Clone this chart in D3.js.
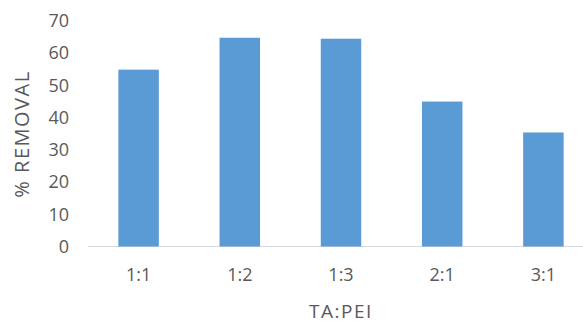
<!DOCTYPE html>
<html>
<head>
<meta charset="utf-8">
<script src="https://cdn.jsdelivr.net/npm/d3@7"></script>
<style>
  body { margin: 0; background: #fff; }
  svg text { font-family: "Open Sans", sans-serif; fill: #595959; }
</style>
</head>
<body>
<div id="chart"></div>
<script>
const categories = ["1:1", "1:2", "1:3", "2:1", "3:1"];
const removal = [54.9, 64.8, 64.5, 45.0, 35.4];
const yTicks = [0, 10, 20, 30, 40, 50, 60, 70];

const svg = d3.select("#chart").append("svg")
    .attr("width", 583)
    .attr("height", 324);

const xScale = d3.scaleBand()
    .domain(categories)
    .range([88, 594])
    .paddingInner(0.6)
    .paddingOuter(0.3);

const yScale = d3.scaleLinear()
    .domain([0, 70])
    .range([246.5, 21]);

// baseline
svg.append("line")
    .attr("x1", 88).attr("x2", 583)
    .attr("y1", yScale(0)).attr("y2", yScale(0))
    .attr("stroke", "#d9d9d9")
    .attr("stroke-width", 1);

// bars
svg.selectAll("rect")
    .data(removal)
    .enter()
    .append("rect")
    .attr("x", (d, i) => xScale(categories[i]))
    .attr("y", d => yScale(d))
    .attr("width", xScale.bandwidth())
    .attr("height", d => yScale(0) - yScale(d))
    .attr("fill", "#5b9bd5");

// y-axis labels
const yAxis = svg.append("g")
    .attr("transform", "translate(69,0)")
    .call(d3.axisLeft(yScale).tickValues(yTicks).tickSize(0).tickPadding(0));
yAxis.select(".domain").remove();
yAxis.selectAll("text").attr("font-size", 18).attr("font-family", null);

// x-axis labels
const xAxis = svg.append("g")
    .attr("transform", `translate(0, ${yScale(0)})`)
    .call(d3.axisBottom(xScale).tickSize(0).tickPadding(22));
xAxis.select(".domain").remove();
xAxis.selectAll("text").attr("font-size", 18).attr("font-family", null);

// axis titles
svg.append("text")
    .attr("transform", "translate(29, 134) rotate(-90)")
    .attr("text-anchor", "middle")
    .attr("font-size", 20)
    .attr("letter-spacing", 1.5)
    .text("% REMOVAL");

svg.append("text")
    .attr("x", 341)
    .attr("y", 318)
    .attr("text-anchor", "middle")
    .attr("font-size", 19)
    .attr("letter-spacing", 1.5)
    .text("TA:PEI");
</script>
</body>
</html>
